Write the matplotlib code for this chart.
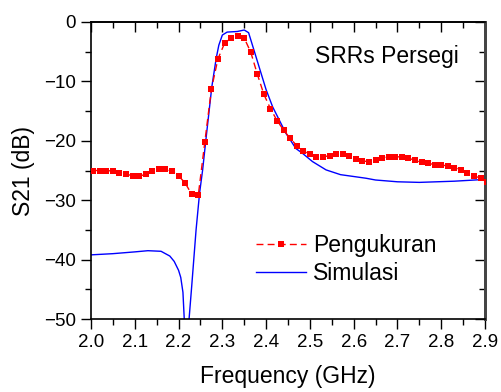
import numpy as np
import matplotlib
matplotlib.use('Agg')
import matplotlib.pyplot as plt
from matplotlib.ticker import MultipleLocator

plt.rcParams['font.family'] = ['Liberation Sans', 'DejaVu Sans']

# ── Data ─────────────────────────────────────────────────────────────────────

# measured S21 (red squares), sampled every 0.015 GHz
freq_meas = [2.005, 2.020, 2.035, 2.050, 2.065, 2.080, 2.095, 2.110, 2.125,
             2.140, 2.155, 2.170, 2.185, 2.200, 2.215, 2.230, 2.245, 2.260,
             2.275, 2.290, 2.305, 2.320, 2.335, 2.350, 2.365, 2.380, 2.395,
             2.410, 2.425, 2.440, 2.455, 2.470, 2.485, 2.500, 2.515, 2.530,
             2.545, 2.560, 2.575, 2.590, 2.605, 2.620, 2.635, 2.650, 2.665,
             2.680, 2.695, 2.710, 2.725, 2.740, 2.755, 2.770, 2.785, 2.800,
             2.815, 2.830, 2.845, 2.860, 2.875, 2.890, 2.905]
s21_meas = [-25.0, -25.0, -25.0, -25.1, -25.4, -25.6, -25.9, -26.0, -25.6,
            -25.0, -24.7, -24.8, -25.1, -25.9, -27.1, -29.0, -29.2, -20.2,
            -11.3, -6.2, -3.6, -2.7, -2.4, -2.7, -5.1, -8.8, -12.2,
            -14.6, -16.6, -18.2, -19.6, -20.8, -21.7, -22.3, -22.7, -22.7,
            -22.5, -22.2, -22.2, -22.5, -23.1, -23.4, -23.5, -23.3, -22.9,
            -22.7, -22.7, -22.7, -22.9, -23.3, -23.6, -23.8, -24.0, -24.1,
            -24.2, -24.5, -24.9, -25.5, -25.9, -26.3, -27.0]

# simulated S21 (blue line)
freq_sim = [2.000, 2.050, 2.100, 2.130, 2.160, 2.180, 2.190, 2.200, 2.205,
            2.210, 2.213, 2.218, 2.224, 2.230, 2.240, 2.248, 2.255, 2.262,
            2.276, 2.286, 2.292, 2.300, 2.311, 2.334, 2.350, 2.360, 2.370,
            2.385, 2.400, 2.415, 2.430, 2.445, 2.468, 2.483, 2.506, 2.537,
            2.570, 2.628, 2.650, 2.700, 2.750, 2.830, 2.900]
s21_sim = [-39.2, -39.0, -38.7, -38.5, -38.6, -39.4, -40.3, -41.8, -43.0,
           -45.5, -50.0, -60.0, -50.0, -44.5, -35.0, -28.8, -24.9, -20.1,
           -10.9, -6.1, -3.9, -2.2, -1.7, -1.6, -1.35, -1.8, -4.2,
           -7.8, -11.4, -14.3, -16.5, -18.7, -21.3, -22.1, -23.5, -24.9,
           -25.7, -26.3, -26.6, -26.9, -27.0, -26.8, -26.5]

xticks = [2.0, 2.1, 2.2, 2.3, 2.4, 2.5, 2.6, 2.7, 2.8, 2.9]
yticks = [0, -10, -20, -30, -40, -50]

# ── Figure ───────────────────────────────────────────────────────────────────

fig = plt.figure(figsize=(5.02, 3.92), dpi=100)
ax = fig.add_axes([0.1813, 0.1862, 0.7848, 0.7577])

ax.plot(freq_sim, s21_sim, color='#0000FF', linewidth=1.0,
        label='Simulasi', zorder=2)
ax.plot(freq_meas, s21_meas, color='#FF0000', linewidth=1.0,
        linestyle=(0, (5, 3)), marker='s', markersize=4.8,
        markeredgewidth=0, label='Pengukuran', zorder=3)

ax.set_xlim(2.0, 2.9)
ax.set_ylim(-50, 0)
ax.set_xticks(xticks)
ax.set_xticklabels([f'{t:.1f}' for t in xticks])
ax.set_yticks(yticks)
ax.xaxis.set_minor_locator(MultipleLocator(0.05))
ax.yaxis.set_minor_locator(MultipleLocator(5))

ax.tick_params(which='both', direction='out', labelsize=13.5, width=1.0,
               color='black', pad=4)
ax.tick_params(which='major', length=7)
ax.tick_params(which='minor', length=4)

# mirrored ticks pointing inward on top and right
top = ax.secondary_xaxis('top')
top.set_xticks(xticks)
top.xaxis.set_minor_locator(MultipleLocator(0.05))
top.tick_params(which='both', direction='in', labeltop=False, width=1.0)
top.tick_params(which='major', length=7)
top.tick_params(which='minor', length=4)

right = ax.secondary_yaxis('right')
right.set_yticks(yticks)
right.yaxis.set_minor_locator(MultipleLocator(5))
right.tick_params(which='both', direction='in', labelright=False, width=1.0)
right.tick_params(which='major', length=7)
right.tick_params(which='minor', length=4)

for s in ax.spines.values():
    s.set_linewidth(1.2)
ax.spines['right'].set_color('#444444')
ax.spines['right'].set_linewidth(2.0)
top.spines['top'].set_linewidth(1.2)
right.spines['right'].set_color('#444444')
right.spines['right'].set_linewidth(2.0)

ax.set_xlabel('Frequency (GHz)', fontsize=16.5, labelpad=10)
ax.set_ylabel('S21 (dB)', fontsize=16.5, labelpad=6)

ax.text(0.75, 0.885, 'SRRs Persegi', transform=ax.transAxes,
        fontsize=16.5, ha='center', va='center')

handles, labels = ax.get_legend_handles_labels()
ax.legend(handles[::-1], labels[::-1], loc='center left',
          bbox_to_anchor=(0.418, 0.2), frameon=False, fontsize=16.5,
          handlelength=2.2, handletextpad=0.3, labelspacing=0.25,
          borderaxespad=0, borderpad=0)

fig.savefig('out.png', dpi=100)
